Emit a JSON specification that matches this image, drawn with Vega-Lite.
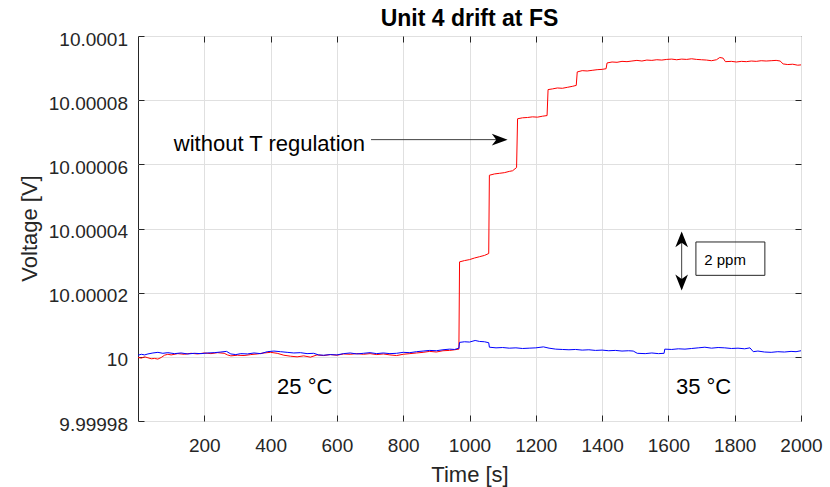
{
  "$schema": "https://vega.github.io/schema/vega-lite/v6.json",
  "width": 663,
  "height": 385,
  "autosize": {"type": "none"},
  "padding": {"left": 138, "top": 36, "right": 29, "bottom": 66},
  "background": "white",
  "config": {
    "font": "Liberation Sans",
    "view": {"stroke": "#262626", "strokeWidth": 1}
  },
  "title": {"text": "Unit 4 drift at FS", "fontSize": 23, "fontWeight": "bold", "color": "#000000", "anchor": "middle", "frame": "group", "offset": 6, "dy": 7},
  "datasets": {
    "traces": [
      {"series":"without","t":0,"v":9.9999998},{"series":"without","t":10,"v":9.9999996},{"series":"without","t":20,"v":10.0},{"series":"without","t":30,"v":9.9999997},{"series":"without","t":40,"v":9.9999994},{"series":"without","t":50,"v":9.9999995},{"series":"without","t":60,"v":9.9999993},{"series":"without","t":70,"v":9.9999998},{"series":"without","t":80,"v":10.0000005},{"series":"without","t":90,"v":10.0000008},{"series":"without","t":100,"v":10.0000006},{"series":"without","t":120,"v":10.000001},{"series":"without","t":140,"v":10.0000008},{"series":"without","t":160,"v":10.0000011},{"series":"without","t":180,"v":10.0000009},{"series":"without","t":200,"v":10.0000012},{"series":"without","t":220,"v":10.000001},{"series":"without","t":240,"v":10.0000013},{"series":"without","t":260,"v":10.0000011},{"series":"without","t":270,"v":10.0000006},{"series":"without","t":280,"v":10.0000003},{"series":"without","t":300,"v":10.0000005},{"series":"without","t":320,"v":10.0000004},{"series":"without","t":340,"v":10.0000007},{"series":"without","t":360,"v":10.0000009},{"series":"without","t":380,"v":10.0000012},{"series":"without","t":400,"v":10.0000014},{"series":"without","t":420,"v":10.0000011},{"series":"without","t":440,"v":10.0000005},{"series":"without","t":460,"v":10.0000002},{"series":"without","t":480,"v":10.0},{"series":"without","t":500,"v":10.0000003},{"series":"without","t":520,"v":9.9999999},{"series":"without","t":540,"v":10.0000006},{"series":"without","t":560,"v":10.0000004},{"series":"without","t":580,"v":10.0000007},{"series":"without","t":600,"v":10.0000005},{"series":"without","t":620,"v":10.0000009},{"series":"without","t":640,"v":10.0000008},{"series":"without","t":660,"v":10.000001},{"series":"without","t":680,"v":10.0000008},{"series":"without","t":700,"v":10.000001},{"series":"without","t":720,"v":10.0000007},{"series":"without","t":740,"v":10.0000009},{"series":"without","t":760,"v":10.0000006},{"series":"without","t":780,"v":10.0000004},{"series":"without","t":800,"v":10.0000008},{"series":"without","t":820,"v":10.000001},{"series":"without","t":840,"v":10.0000012},{"series":"without","t":860,"v":10.0000014},{"series":"without","t":880,"v":10.0000017},{"series":"without","t":900,"v":10.0000015},{"series":"without","t":920,"v":10.0000019},{"series":"without","t":940,"v":10.000002},{"series":"without","t":955,"v":10.0000022},{"series":"without","t":968,"v":10.0000024},
      {"series":"without","t":970,"v":10.0000296},{"series":"without","t":985,"v":10.00003},{"series":"without","t":1000,"v":10.0000303},{"series":"without","t":1015,"v":10.0000308},{"series":"without","t":1030,"v":10.0000312},{"series":"without","t":1045,"v":10.0000316},{"series":"without","t":1058,"v":10.0000322},
      {"series":"without","t":1060,"v":10.0000566},{"series":"without","t":1075,"v":10.000057},{"series":"without","t":1090,"v":10.0000572},{"series":"without","t":1105,"v":10.0000574},{"series":"without","t":1120,"v":10.0000578},{"series":"without","t":1130,"v":10.000058},{"series":"without","t":1142,"v":10.000059},
      {"series":"without","t":1145,"v":10.0000742},{"series":"without","t":1160,"v":10.0000745},{"series":"without","t":1175,"v":10.0000746},{"series":"without","t":1190,"v":10.0000748},{"series":"without","t":1205,"v":10.0000747},{"series":"without","t":1220,"v":10.000075},{"series":"without","t":1234,"v":10.0000752},
      {"series":"without","t":1237,"v":10.0000833},{"series":"without","t":1250,"v":10.0000835},{"series":"without","t":1265,"v":10.0000838},{"series":"without","t":1280,"v":10.0000837},{"series":"without","t":1295,"v":10.000084},{"series":"without","t":1310,"v":10.0000843},{"series":"without","t":1322,"v":10.0000846},
      {"series":"without","t":1325,"v":10.0000888},{"series":"without","t":1340,"v":10.0000892},{"series":"without","t":1355,"v":10.0000891},{"series":"without","t":1370,"v":10.0000893},{"series":"without","t":1385,"v":10.0000895},{"series":"without","t":1400,"v":10.0000896},{"series":"without","t":1412,"v":10.0000898},
      {"series":"without","t":1415,"v":10.0000916},{"series":"without","t":1430,"v":10.0000919},{"series":"without","t":1445,"v":10.0000918},{"series":"without","t":1460,"v":10.0000921},{"series":"without","t":1475,"v":10.000092},{"series":"without","t":1490,"v":10.0000922},{"series":"without","t":1505,"v":10.0000924},{"series":"without","t":1520,"v":10.0000922},{"series":"without","t":1535,"v":10.0000925},{"series":"without","t":1550,"v":10.0000924},{"series":"without","t":1565,"v":10.0000926},{"series":"without","t":1580,"v":10.0000925},{"series":"without","t":1595,"v":10.0000927},{"series":"without","t":1610,"v":10.0000928},{"series":"without","t":1625,"v":10.0000926},{"series":"without","t":1640,"v":10.0000928},{"series":"without","t":1655,"v":10.0000927},{"series":"without","t":1670,"v":10.0000929},{"series":"without","t":1685,"v":10.0000927},{"series":"without","t":1700,"v":10.0000926},{"series":"without","t":1715,"v":10.0000925},{"series":"without","t":1730,"v":10.0000923},{"series":"without","t":1745,"v":10.0000926},{"series":"without","t":1755,"v":10.0000933},{"series":"without","t":1765,"v":10.0000931},{"series":"without","t":1772,"v":10.000092},{"series":"without","t":1790,"v":10.0000921},{"series":"without","t":1805,"v":10.0000919},{"series":"without","t":1820,"v":10.0000921},{"series":"without","t":1835,"v":10.000092},{"series":"without","t":1850,"v":10.0000922},{"series":"without","t":1865,"v":10.0000921},{"series":"without","t":1880,"v":10.0000923},{"series":"without","t":1895,"v":10.0000922},{"series":"without","t":1910,"v":10.0000923},{"series":"without","t":1925,"v":10.0000924},{"series":"without","t":1937,"v":10.0000922},{"series":"without","t":1946,"v":10.0000913},{"series":"without","t":1960,"v":10.0000911},{"series":"without","t":1975,"v":10.0000912},{"series":"without","t":1990,"v":10.0000909},{"series":"without","t":2000,"v":10.000091},
      {"series":"with","t":0,"v":10.0000005},{"series":"with","t":10,"v":10.0000008},{"series":"with","t":20,"v":10.0000006},{"series":"with","t":30,"v":10.0000009},{"series":"with","t":45,"v":10.0000012},{"series":"with","t":60,"v":10.0000014},{"series":"with","t":75,"v":10.0000011},{"series":"with","t":90,"v":10.0000013},{"series":"with","t":110,"v":10.000001},{"series":"with","t":130,"v":10.0000012},{"series":"with","t":150,"v":10.0000009},{"series":"with","t":170,"v":10.0000011},{"series":"with","t":190,"v":10.000001},{"series":"with","t":210,"v":10.0000012},{"series":"with","t":230,"v":10.0000013},{"series":"with","t":250,"v":10.0000015},{"series":"with","t":267,"v":10.0000017},{"series":"with","t":280,"v":10.0000009},{"series":"with","t":295,"v":10.0000007},{"series":"with","t":310,"v":10.000001},{"series":"with","t":330,"v":10.0000009},{"series":"with","t":350,"v":10.0000012},{"series":"with","t":370,"v":10.000001},{"series":"with","t":390,"v":10.0000016},{"series":"with","t":410,"v":10.0000018},{"series":"with","t":430,"v":10.0000016},{"series":"with","t":450,"v":10.0000014},{"series":"with","t":470,"v":10.0000012},{"series":"with","t":490,"v":10.0000013},{"series":"with","t":510,"v":10.000001},{"series":"with","t":530,"v":10.0000011},{"series":"with","t":545,"v":10.0000006},{"series":"with","t":560,"v":10.0000005},{"series":"with","t":580,"v":10.0000007},{"series":"with","t":600,"v":10.0000006},{"series":"with","t":620,"v":10.000001},{"series":"with","t":640,"v":10.0000012},{"series":"with","t":660,"v":10.0000009},{"series":"with","t":680,"v":10.0000011},{"series":"with","t":700,"v":10.0000013},{"series":"with","t":720,"v":10.000001},{"series":"with","t":740,"v":10.0000012},{"series":"with","t":760,"v":10.000001},{"series":"with","t":780,"v":10.0000011},{"series":"with","t":800,"v":10.0000014},{"series":"with","t":820,"v":10.0000013},{"series":"with","t":840,"v":10.0000016},{"series":"with","t":860,"v":10.0000018},{"series":"with","t":880,"v":10.000002},{"series":"with","t":900,"v":10.0000019},{"series":"with","t":920,"v":10.0000022},{"series":"with","t":940,"v":10.0000024},{"series":"with","t":955,"v":10.0000023},{"series":"with","t":968,"v":10.0000027},
      {"series":"with","t":970,"v":10.0000045},{"series":"with","t":985,"v":10.0000047},{"series":"with","t":1000,"v":10.0000046},{"series":"with","t":1017,"v":10.0000051},{"series":"with","t":1030,"v":10.0000048},{"series":"with","t":1045,"v":10.0000047},{"series":"with","t":1058,"v":10.0000044},
      {"series":"with","t":1060,"v":10.000003},{"series":"with","t":1080,"v":10.0000028},{"series":"with","t":1100,"v":10.0000029},{"series":"with","t":1120,"v":10.0000027},{"series":"with","t":1140,"v":10.0000028},{"series":"with","t":1160,"v":10.0000026},{"series":"with","t":1180,"v":10.0000027},{"series":"with","t":1200,"v":10.0000028},{"series":"with","t":1223,"v":10.0000031},{"series":"with","t":1240,"v":10.0000027},{"series":"with","t":1260,"v":10.0000024},{"series":"with","t":1280,"v":10.0000023},{"series":"with","t":1300,"v":10.0000022},{"series":"with","t":1320,"v":10.0000023},{"series":"with","t":1340,"v":10.0000021},{"series":"with","t":1360,"v":10.0000022},{"series":"with","t":1380,"v":10.000002},{"series":"with","t":1400,"v":10.0000021},{"series":"with","t":1420,"v":10.0000019},{"series":"with","t":1440,"v":10.000002},{"series":"with","t":1460,"v":10.0000018},{"series":"with","t":1480,"v":10.0000019},{"series":"with","t":1494,"v":10.0000018},{"series":"with","t":1506,"v":10.0000011},{"series":"with","t":1530,"v":10.000001},{"series":"with","t":1550,"v":10.0000012},{"series":"with","t":1570,"v":10.000001},{"series":"with","t":1587,"v":10.0000011},{"series":"with","t":1589,"v":10.0000024},{"series":"with","t":1610,"v":10.0000023},{"series":"with","t":1630,"v":10.0000025},{"series":"with","t":1650,"v":10.0000024},{"series":"with","t":1670,"v":10.0000026},{"series":"with","t":1690,"v":10.0000028},{"series":"with","t":1710,"v":10.000003},{"series":"with","t":1730,"v":10.0000027},{"series":"with","t":1750,"v":10.0000029},{"series":"with","t":1770,"v":10.0000028},{"series":"with","t":1790,"v":10.0000026},{"series":"with","t":1810,"v":10.0000027},{"series":"with","t":1830,"v":10.0000025},{"series":"with","t":1846,"v":10.0000028},{"series":"with","t":1856,"v":10.0000016},{"series":"with","t":1870,"v":10.0000018},{"series":"with","t":1890,"v":10.0000015},{"series":"with","t":1910,"v":10.0000014},{"series":"with","t":1930,"v":10.0000016},{"series":"with","t":1950,"v":10.0000015},{"series":"with","t":1970,"v":10.0000017},{"series":"with","t":1985,"v":10.0000016},{"series":"with","t":2000,"v":10.0000019}
    ],
    "arrowLines": [
      {"t": 703, "t2": 1100, "v": 10.0000677, "v2": 10.0000677},
      {"t": 1640, "t2": 1640, "v": 10.0000212, "v2": 10.0000386}
    ],
    "arrowHeads": [
      {"t": 1115, "v": 10.0000677, "dir": "right"},
      {"t": 1640, "v": 10.0000391, "dir": "up"},
      {"t": 1640, "v": 10.0000207, "dir": "down"}
    ],
    "box": [{"t": 1683, "t2": 1891, "v": 10.0000358, "v2": 10.0000254}],
    "leftText": [{"t": 108, "v": 10.0000643, "label": "without T regulation"}],
    "tempText": [
      {"t": 503, "v": 9.9999885, "label": "25 °C"},
      {"t": 1706, "v": 9.9999885, "label": "35 °C"}
    ],
    "smallText": [{"t": 1708, "v": 10.0000285, "label": "2 ppm"}]
  },
  "layer": [
    {
      "data": {"name": "traces"},
      "transform": [{"filter": "datum.series === 'without'"}],
      "mark": {"type": "line", "color": "#ff0000", "strokeWidth": 1},
      "encoding": {
        "x": {"field": "t", "type": "quantitative", "scale": {"domain": [0, 2000], "nice": false},
          "axis": {"orient": "bottom", "offset": -6, "values": [200,400,600,800,1000,1200,1400,1600,1800,2000], "format": "d", "labelOverlap": false, "labelFlush": false, "grid": true, "gridColor": "#e0e0e0", "domain": false, "ticks": true, "tickColor": "#262626", "tickWidth": 1, "tickSize": 6, "labelFontSize": 19, "labelColor": "#262626", "labelPadding": 15, "title": "Time [s]", "titleFontSize": 22, "titleFontWeight": "normal", "titleColor": "#262626", "titleY": 66.5, "titleBaseline": "alphabetic"}},
        "y": {"field": "v", "type": "quantitative", "scale": {"domain": [9.99998, 10.0001], "nice": false, "zero": false},
          "axis": {"orient": "left", "offset": -6, "values": [9.99998, 10, 10.00002, 10.00004, 10.00006, 10.00008, 10.0001], "format": ".7~g", "labelOverlap": false, "labelFlush": false, "grid": true, "gridColor": "#e0e0e0", "domain": false, "ticks": true, "tickColor": "#262626", "tickWidth": 1, "tickSize": 6, "labelFontSize": 19, "labelColor": "#262626", "labelPadding": 10.5, "labelOffset": 3, "title": "Voltage [V]", "titleFontSize": 22, "titleFontWeight": "normal", "titleColor": "#262626", "titleAngle": 270, "titleX": -108, "titleY": 192, "titleAlign": "center", "titleBaseline": "alphabetic"}}
      }
    },
    {
      "data": {"name": "traces"},
      "transform": [{"filter": "datum.series === 'with'"}],
      "mark": {"type": "line", "color": "#0000ff", "strokeWidth": 1},
      "encoding": {
        "x": {"field": "t", "type": "quantitative", "scale": {"domain": [0, 2000], "nice": false}, "axis": null},
        "y": {"field": "v", "type": "quantitative", "scale": {"domain": [9.99998, 10.0001], "nice": false, "zero": false}, "axis": null}
      }
    },
    {
      "data": {"name": "box"},
      "mark": {"type": "rect", "fill": null, "fillOpacity": 0, "stroke": "#262626", "strokeWidth": 1},
      "encoding": {
        "x": {"field": "t", "type": "quantitative", "scale": {"domain": [0, 2000], "nice": false},
          "axis": {"orient": "top", "offset": -6, "values": [200,400,600,800,1000,1200,1400,1600,1800], "grid": false, "domain": false, "labels": false, "ticks": true, "tickColor": "#262626", "tickWidth": 1, "tickSize": 6, "title": ""}},
        "x2": {"field": "t2"},
        "y": {"field": "v", "type": "quantitative", "scale": {"domain": [9.99998, 10.0001], "nice": false, "zero": false},
          "axis": {"orient": "right", "offset": -6, "values": [10, 10.00002, 10.00004, 10.00006, 10.00008], "grid": false, "domain": false, "labels": false, "ticks": true, "tickColor": "#262626", "tickWidth": 1, "tickSize": 6, "title": ""}},
        "y2": {"field": "v2"}
      }
    },
    {
      "data": {"name": "arrowLines"},
      "mark": {"type": "rule", "color": "#404040", "strokeWidth": 1},
      "encoding": {
        "x": {"field": "t", "type": "quantitative", "scale": {"domain": [0, 2000], "nice": false}, "axis": null},
        "x2": {"field": "t2"},
        "y": {"field": "v", "type": "quantitative", "scale": {"domain": [9.99998, 10.0001], "nice": false, "zero": false}, "axis": null},
        "y2": {"field": "v2"}
      }
    },
    {
      "data": {"name": "arrowHeads"},
      "mark": {"type": "point", "filled": true, "color": "#000000", "size": 1000, "opacity": 1, "strokeWidth": 0},
      "encoding": {
        "x": {"field": "t", "type": "quantitative", "scale": {"domain": [0, 2000], "nice": false}, "axis": null},
        "y": {"field": "v", "type": "quantitative", "scale": {"domain": [9.99998, 10.0001], "nice": false, "zero": false}, "axis": null},
        "shape": {"field": "dir", "type": "nominal", "legend": null,
          "scale": {"domain": ["right", "up", "down"], "range": ["M0,0L-1,-0.37L-0.72,0L-1,0.37Z", "M0,0L0.4,1L0,0.72L-0.4,1Z", "M0,0L0.4,-1L0,-0.72L-0.4,-1Z"]}}
      }
    },
    {
      "data": {"name": "leftText"},
      "mark": {"type": "text", "fontSize": 22, "color": "#000000", "align": "left", "baseline": "alphabetic"},
      "encoding": {
        "x": {"field": "t", "type": "quantitative", "scale": {"domain": [0, 2000], "nice": false}, "axis": null},
        "y": {"field": "v", "type": "quantitative", "scale": {"domain": [9.99998, 10.0001], "nice": false, "zero": false}, "axis": null},
        "text": {"field": "label"}
      }
    },
    {
      "data": {"name": "tempText"},
      "mark": {"type": "text", "fontSize": 22, "color": "#000000", "align": "center", "baseline": "alphabetic"},
      "encoding": {
        "x": {"field": "t", "type": "quantitative", "scale": {"domain": [0, 2000], "nice": false}, "axis": null},
        "y": {"field": "v", "type": "quantitative", "scale": {"domain": [9.99998, 10.0001], "nice": false, "zero": false}, "axis": null},
        "text": {"field": "label"}
      }
    },
    {
      "data": {"name": "smallText"},
      "mark": {"type": "text", "fontSize": 15, "color": "#000000", "align": "left", "baseline": "alphabetic"},
      "encoding": {
        "x": {"field": "t", "type": "quantitative", "scale": {"domain": [0, 2000], "nice": false}, "axis": null},
        "y": {"field": "v", "type": "quantitative", "scale": {"domain": [9.99998, 10.0001], "nice": false, "zero": false}, "axis": null},
        "text": {"field": "label"}
      }
    }
  ],
  "resolve": {"axis": {"x": "independent", "y": "independent"}}
}
